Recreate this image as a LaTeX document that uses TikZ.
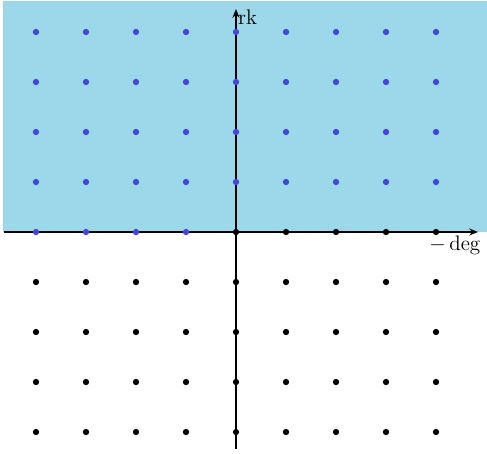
\documentclass[tikz,border=0pt]{standalone}
\usetikzlibrary{arrows.meta}
\definecolor{bgblue}{RGB}{155,217,234}
\definecolor{dotblue}{RGB}{68,68,222}
\tikzset{
  axis/.style={line width=1.6pt,-{Stealth[length=5pt,width=4pt]}},
  bdot/.style={circle,fill=dotblue,inner sep=0pt,minimum size=3.6pt},
  kdot/.style={circle,fill=black,inner sep=0pt,minimum size=3.6pt}
}
\begin{document}
\begin{tikzpicture}[x=1cm,y=1cm]
\useasboundingbox (-4.72,-4.42) rectangle (5.02,4.64);
\fill[bgblue] (-4.66,0) rectangle (5.02,4.62);
\coordinate (xl) at (-4.64,0);
\coordinate (xr) at (4.84,0);
\coordinate (yb) at (0,-4.34);
\coordinate (yt) at (0,4.46);
\draw[axis] (xl) -- (xr);
\draw[axis] (yb) -- (yt);
\node[anchor=west,inner sep=1pt,font=\large] (rk) at (0.0,4.3) {rk};
\node[inner sep=1pt,font=\large] (deg) at (4.38,-0.27) {$-\deg$};
\foreach \x in {-4,...,4}{
  \foreach \y in {-4,...,4}{
    \pgfmathparse{(\y>0 || (\y==0 && \x<0)) ? 1 : 0}
    \ifnum\pgfmathresult=1
      \node[bdot] (d\x\y) at (\x,\y) {};
    \else
      \node[kdot] (d\x\y) at (\x,\y) {};
    \fi
  }
}
\end{tikzpicture}
\end{document}
